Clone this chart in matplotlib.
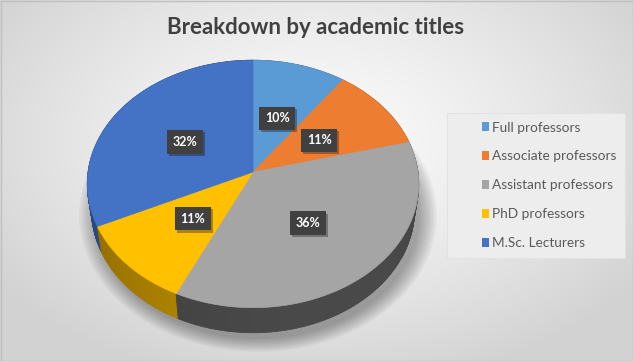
#!/usr/bin/env python3
import numpy as np
import matplotlib
matplotlib.use("Agg")
import matplotlib.pyplot as plt
from matplotlib.patches import Polygon, Rectangle, Patch
from matplotlib.colors import to_rgb
import matplotlib.patheffects as pe

"""
3D-looking pie chart: breakdown by academic titles
"""

categories = ["Full professors", "Associate professors", "Assistant professors",
              "PhD professors", "M.Sc. Lecturers"]
shares = [10, 11, 36, 11, 32]
colors = ["#5b9bd5", "#ed7d31", "#a5a5a5", "#ffc000", "#4472c4"]
wall_colors = ["#3f77a8", "#b85c1f", "#464646", "#b38600", "#30589f"]
title = "Breakdown by academic titles"

W, H = 633, 361

# camera for the tilted disc (pixel units)
cx, cy = 253, 172
F, L = 1143.0, 6.93
elev = np.radians(48)
ce, se = np.cos(elev), np.sin(elev)
thick = 0.243


def proj(a, r=1.0, z=0.0):
    # a: degrees clockwise from 12 o'clock
    a = np.radians(a)
    X = r * np.sin(a)
    Y = r * np.cos(a)
    depth = L + Y * ce - z * se
    x = cx + X * F / depth
    y = cy - (Y * se + z * ce) * F / depth
    return np.column_stack([np.atleast_1d(x), np.atleast_1d(y)])


fig = plt.figure(figsize=(W / 100, H / 100), dpi=100)
ax = fig.add_axes([0, 0, 1, 1])
ax.set_xlim(0, W)
ax.set_ylim(H, 0)
ax.axis("off")

# radial background
gx, gy = np.meshgrid(np.arange(W), np.arange(H))
d = np.sqrt(((gx - 316) / 390.0) ** 2 + ((gy - 140) / 250.0) ** 2)
bg = 0.985 - 0.16 * np.clip(d, 0, 1) ** 1.3
ax.imshow(np.dstack([bg, bg, bg]), extent=(0, W, H, 0), zorder=0, aspect="auto")

# soft shadow under the pie
ring = proj(np.linspace(0, 360, 361), 1.0, -thick)
for k in range(10):
    sc = 1.0 + 0.012 * k
    pts = (ring - [cx, cy + 40]) * sc + [cx + 5, cy + 46]
    ax.add_patch(Polygon(pts, closed=True, fc="black", ec="none",
                         alpha=0.035, zorder=1))

# slice angles
bounds = np.concatenate([[0], np.cumsum(shares)]) / sum(shares) * 360.0

# side walls, far segments first
segs = []
for i in range(len(shares)):
    a0, a1 = bounds[i], bounds[i + 1]
    n = max(2, int(a1 - a0))
    angs = np.linspace(a0, a1, n + 1)
    for j in range(n):
        segs.append((np.cos(np.radians((angs[j] + angs[j + 1]) / 2)),
                     i, angs[j], angs[j + 1]))
segs.sort(key=lambda s: -s[0])
for _, i, b0, b1 in segs:
    top = proj(np.array([b0, b1]), 1.0, 0.0)
    bot = proj(np.array([b1, b0]), 1.0, -thick)
    mid = np.radians((b0 + b1) / 2)
    f = 0.85 + 0.2 * np.cos(mid - np.radians(150))
    col = np.clip(np.array(to_rgb(wall_colors[i])) * f, 0, 1)
    ax.add_patch(Polygon(np.vstack([top, bot]), closed=True, fc=col,
                         ec=col, lw=0.6, zorder=2))

# top faces
for i in range(len(shares)):
    a0, a1 = bounds[i], bounds[i + 1]
    arc = proj(np.linspace(a0, a1, int(a1 - a0) + 2), 1.0, 0.0)
    pts = np.vstack([[cx, cy], arc])
    ax.add_patch(Polygon(pts, closed=True, fc=colors[i], ec=colors[i],
                         lw=0.5, zorder=3))

# percentage labels
for i in range(len(shares)):
    mid = (bounds[i] + bounds[i + 1]) / 2
    p = proj(mid, 0.5, 0.0)[0]
    t = ax.text(p[0], p[1] + 2, "%d%%" % shares[i], ha="center", va="center",
                color="white", fontsize=9, fontweight="bold", family="Lato",
                bbox=dict(boxstyle="square,pad=0.45", fc="#404040", ec="none"),
                zorder=5)
    t.get_bbox_patch().set_path_effects(
        [pe.SimplePatchShadow(offset=(1.5, -1.5), alpha=0.35), pe.Normal()])

# title
ax.text(316, 27, title, ha="center", va="center", fontsize=16,
        fontweight="bold", family="Lato", color="#404040", zorder=5)

# legend box + legend
ax.add_patch(Rectangle((447, 113), 178, 145, fc="#ededed", ec="#e2e2e2",
                       lw=0.8, zorder=1.5))
handles = [Patch(fc=c, ec="none") for c in colors]
leg = ax.legend(handles, categories, loc="upper left",
                bbox_to_anchor=(482, 121.5), bbox_transform=ax.transData,
                frameon=False, labelspacing=1.24,
                handlelength=0.5, handleheight=0.6, handletextpad=0.25,
                borderaxespad=0, borderpad=0,
                prop={"family": "Lato", "size": 9.8})
for t in leg.get_texts():
    t.set_color("#595959")

# outer border
ax.add_patch(Rectangle((0.5, 0.5), W - 1, H - 1, fc="none", ec="#bfbfbf",
                       lw=1, zorder=6))

fig.savefig("out.png", dpi=100)
plt.close()
